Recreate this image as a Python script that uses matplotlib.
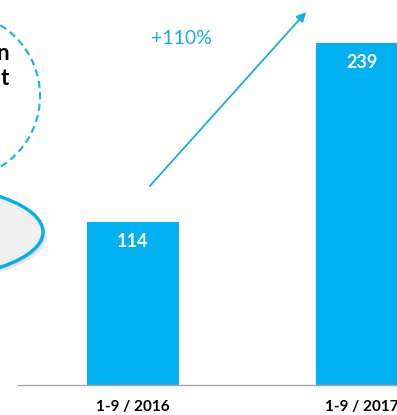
import matplotlib
matplotlib.use("Agg")
import matplotlib.pyplot as plt
from matplotlib.patches import Ellipse

# Dados
periodos = ['1-9 / 2016', '1-9 / 2017']
valores = [114, 239]
crescimento = '+110%'

azul = '#00b0f0'
plt.rcParams['font.family'] = ['Lato', 'DejaVu Sans']

W, H = 397, 415
fig = plt.figure(figsize=(W / 100, H / 100), dpi=100)

# eixo ocupa do pixel 18 ate a borda direita, base em y=385
ax = fig.add_axes([18 / W, (H - 385) / H, 1 - 18 / W, 385 / H])
x = list(range(len(valores)))
barras = ax.bar(x, valores, width=0.402, color=azul)

for xi, v in zip(x, valores):
    ax.text(xi, v - 14, f'{v}', ha='center', va='center', color='white',
            fontsize=13, fontweight='bold')

ax.set_xlim(-0.502, 1.153)
ax.set_ylim(0, 268.9)
ax.set_xticks(x)
ax.set_xticklabels(periodos, fontsize=11, fontweight='bold')
ax.tick_params(axis='x', length=0, pad=11)
ax.set_yticks([])
for s in ['top', 'left', 'right']:
    ax.spines[s].set_visible(False)
ax.spines['bottom'].set_color('#a6a6a6')
ax.spines['bottom'].set_linewidth(1.0)

# Seta de crescimento
fig.patches.append(matplotlib.patches.FancyArrowPatch(
    (148 / W, 1 - 188 / H), (308 / W, 1 - 10 / H),
    transform=fig.transFigure, arrowstyle='-|>', mutation_scale=14,
    color='#16aeea', lw=1.3))
fig.text(181 / W, 1 - 38 / H, crescimento, ha='center', va='center',
         color='#16aeea', fontsize=14)

# Circulo tracejado a esquerda
fig.add_artist(Ellipse((-43 / W, 1 - 96 / H), 166 / W, 166 / H,
                       transform=fig.transFigure, fill=False,
                       edgecolor='#1fb4f0', lw=1.6, linestyle=(0, (3.2, 2))))
fig.text(9 / W, 1 - 60 / H, 'n', ha='right', va='baseline',
         fontsize=16, fontweight='bold', color='black')
fig.text(9 / W, 1 - 85 / H, 't', ha='right', va='baseline',
         fontsize=16, fontweight='bold', color='black')

# Elipse cinza com sombra
for off, a in [(4, 0.10), (3, 0.12), (2, 0.15)]:
    fig.add_artist(Ellipse(((-90 + off) / W, 1 - (232 + off) / H), 266 / W, 96 / H,
                           transform=fig.transFigure, facecolor='#808080',
                           edgecolor='none', alpha=a))
fig.add_artist(Ellipse((-90 / W, 1 - 232 / H), 266 / W, 96 / H,
                       transform=fig.transFigure, facecolor='#f0f0f0',
                       edgecolor=azul, lw=2.4))

fig.savefig('out.png', dpi=100)
